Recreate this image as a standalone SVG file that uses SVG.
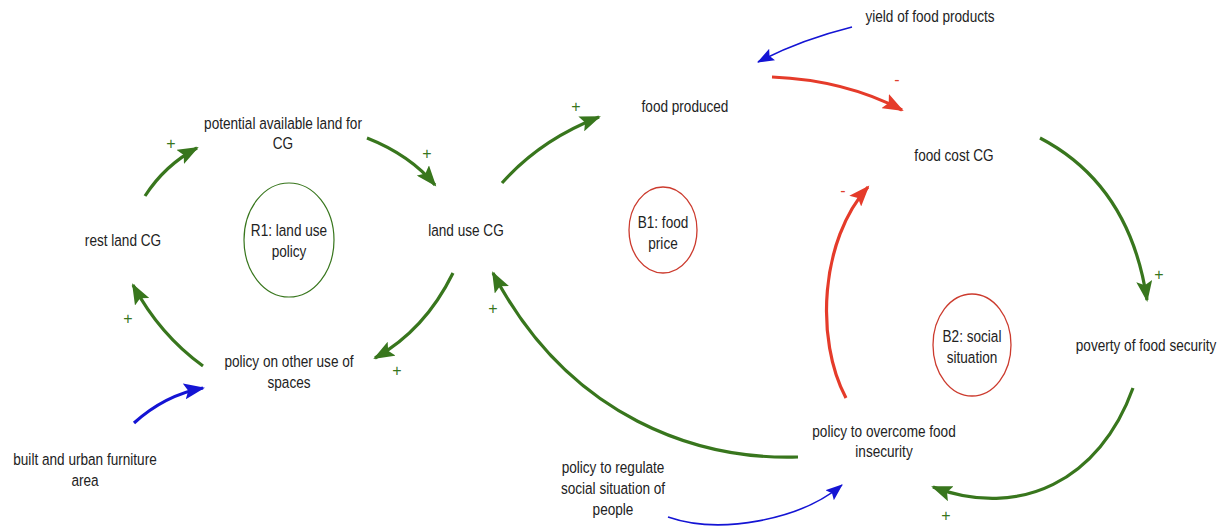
<svg xmlns="http://www.w3.org/2000/svg" width="1223" height="531" viewBox="0 0 1223 531">
<style>
text{font-family:"Liberation Sans",Arial,sans-serif;fill:#222;}
.lbl{font-size:17px;text-anchor:middle;}
.pol{font-size:16px;text-anchor:middle;}
.gp{fill:#38761d;}
.rp{fill:#e0402c;}
.g{fill:none;stroke:#38761d;stroke-width:3.2;}
.r{fill:none;stroke:#e53b2a;stroke-width:3.2;}
.b{fill:none;stroke:#1414d4;stroke-width:3.2;}
.bt{fill:none;stroke:#1414d4;stroke-width:1.6;}
.loopg{fill:none;stroke:#38761d;stroke-width:1.2;}
.loopr{fill:none;stroke:#cc3b2e;stroke-width:1.3;}
</style>
<defs>
<marker id="ag" markerUnits="userSpaceOnUse" markerWidth="22" markerHeight="16" refX="19" refY="8" orient="auto"><path d="M0,0 L21,8 L0,16 L4,8 z" fill="#38761d"/></marker>
<marker id="ar" markerUnits="userSpaceOnUse" markerWidth="22" markerHeight="16" refX="19" refY="8" orient="auto"><path d="M0,0 L21,8 L0,16 L4,8 z" fill="#e53b2a"/></marker>
<marker id="ab" markerUnits="userSpaceOnUse" markerWidth="22" markerHeight="16" refX="19" refY="8" orient="auto"><path d="M0,0 L21,8 L0,16 L4,8 z" fill="#1414d4"/></marker>
<marker id="abt" markerUnits="userSpaceOnUse" markerWidth="18" markerHeight="13" refX="16" refY="6.5" orient="auto"><path d="M0,0 L17,6.5 L0,13 L3,6.5 z" fill="#1414d4"/></marker>
</defs>

<g id="connectors">
<path class="g" d="M145,196 Q165,165 197,148" marker-end="url(#ag)"/>
<path class="g" d="M367,138 Q410,155 435,185" marker-end="url(#ag)"/>
<path class="g" d="M453,273 Q425,330 375,358" marker-end="url(#ag)"/>
<path class="g" d="M203,366 Q160,335 133,285" marker-end="url(#ag)"/>
<path class="g" d="M502,183 Q540,140 599,117" marker-end="url(#ag)"/>
<path class="bt" d="M852,27 Q800,40 758,62" marker-end="url(#abt)"/>
<path class="r" d="M772,77 Q845,80 902,110" marker-end="url(#ar)"/>
<path class="g" d="M1040,138 Q1130,185 1147,300" marker-end="url(#ag)"/>
<path class="g" d="M1133,388 C1100,480 1020,520 933,487" marker-end="url(#ag)"/>
<path class="r" d="M846,398 C815,340 820,240 868,187" marker-end="url(#ar)"/>
<path class="g" d="M798,457 C700,460 570,420 493,273" marker-end="url(#ag)"/>
<path class="b" d="M134,423 Q165,395 203,388" marker-end="url(#ab)"/>
<path class="bt" d="M668,517 C720,535 800,520 842,485" marker-end="url(#abt)"/>
<text class="pol gp" x="171" y="149">+</text>
<text class="pol gp" x="427" y="159">+</text>
<text class="pol gp" x="397" y="376">+</text>
<text class="pol gp" x="128" y="324">+</text>
<text class="pol gp" x="576" y="112">+</text>
<text class="pol rp" x="897" y="85">-</text>
<text class="pol gp" x="1159" y="280">+</text>
<text class="pol gp" x="946" y="521">+</text>
<text class="pol rp" x="843" y="196">-</text>
<text class="pol gp" x="493" y="314">+</text>
</g>

<g id="n-potential" transform="translate(283,0) scale(0.8,1)"><text class="lbl" x="0" y="129">potential available land for</text><text class="lbl" x="0" y="149">CG</text></g>
<g id="n-rest" transform="translate(123,0) scale(0.8,1)"><text class="lbl" x="0" y="246">rest land CG</text></g>
<g id="n-landuse" transform="translate(466,0) scale(0.8,1)"><text class="lbl" x="0" y="236">land use CG</text></g>
<g id="n-policyother" transform="translate(289,0) scale(0.8,1)"><text class="lbl" x="0" y="367">policy on other use of</text><text class="lbl" x="0" y="388">spaces</text></g>
<g id="n-built" transform="translate(85,0) scale(0.8,1)"><text class="lbl" x="0" y="465">built and urban furniture</text><text class="lbl" x="0" y="486">area</text></g>
<g id="n-foodproduced" transform="translate(685,0) scale(0.8,1)"><text class="lbl" x="0" y="112">food produced</text></g>
<g id="n-yield" transform="translate(930,0) scale(0.8,1)"><text class="lbl" x="0" y="22">yield of food products</text></g>
<g id="n-foodcost" transform="translate(954,0) scale(0.8,1)"><text class="lbl" x="0" y="161">food cost CG</text></g>
<g id="n-poverty" transform="translate(1146,0) scale(0.8,1)"><text class="lbl" x="0" y="351">poverty of food security</text></g>
<g id="n-overcome" transform="translate(884,0) scale(0.8,1)"><text class="lbl" x="0" y="437">policy to overcome food</text><text class="lbl" x="0" y="457">insecurity</text></g>
<g id="n-regulate" transform="translate(613,0) scale(0.8,1)"><text class="lbl" x="0" y="473">policy to regulate</text><text class="lbl" x="0" y="494">social situation of</text><text class="lbl" x="0" y="515">people</text></g>

<g id="loop-r1"><ellipse class="loopg" cx="289" cy="240" rx="45" ry="57"/><g transform="translate(289,0) scale(0.8,1)"><text class="lbl" x="0" y="236">R1: land use</text><text class="lbl" x="0" y="257">policy</text></g></g>
<g id="loop-b1"><ellipse class="loopr" cx="663" cy="230" rx="34" ry="43"/><g transform="translate(663,0) scale(0.8,1)"><text class="lbl" x="0" y="228">B1: food</text><text class="lbl" x="0" y="249">price</text></g></g>
<g id="loop-b2"><ellipse class="loopr" cx="972" cy="345" rx="39" ry="51"/><g transform="translate(972,0) scale(0.8,1)"><text class="lbl" x="0" y="342">B2: social</text><text class="lbl" x="0" y="363">situation</text></g></g>
</svg>
